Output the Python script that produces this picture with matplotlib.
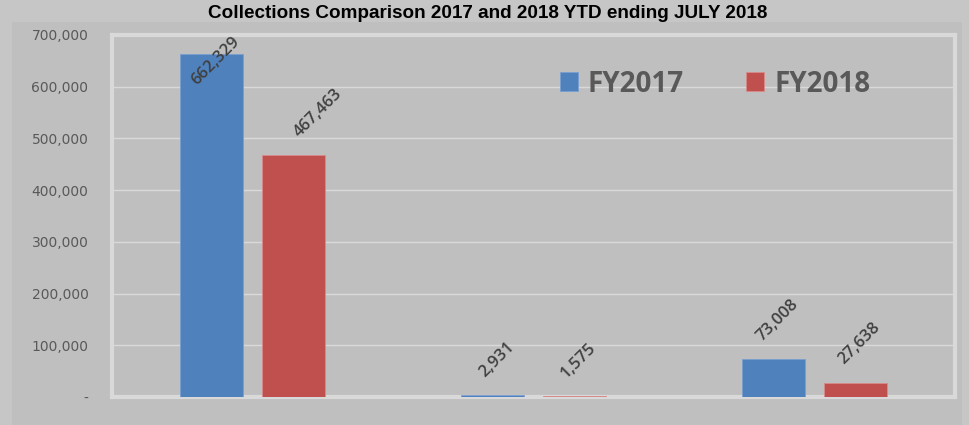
import matplotlib
matplotlib.use("Agg")
import matplotlib.pyplot as plt
from matplotlib.patches import Rectangle
from matplotlib.ticker import FuncFormatter
import numpy as np

title = "Collections Comparison 2017 and 2018 YTD ending JULY 2018"
categories = ["A", "B", "C"]
series_names = ["FY2017", "FY2018"]
fy2017 = [662329, 2931, 73008]
fy2018 = [467463, 1575, 27638]
colors = ["#4f81bd", "#c0504d"]
yticks = [0, 100000, 200000, 300000, 400000, 500000, 600000, 700000]

# layout-only nudges for individual labels (series index, category index) -> px
label_nudge_px = {(1, 0): 21}

W, H = 969, 425
fig = plt.figure(figsize=(W / 100, H / 100), dpi=100, facecolor="#c6c6c6")
fig.patches.append(Rectangle((12 / W, 0), (962 - 12) / W, (H - 22) / H,
                             transform=fig.transFigure, facecolor="#bfbfbf",
                             edgecolor="none", zorder=-10))

ax = fig.add_axes([112 / W, 28 / H, (955 - 112) / W, (390 - 28) / H])
ax.set_zorder(2)
ax.set_facecolor("#bfbfbf")

x = np.arange(len(categories))
bw = 0.225
off = 0.145
b1 = ax.bar(x - off, fy2017, bw, color=colors[0], edgecolor="#7a9fd0", linewidth=0.6,
            label=series_names[0], zorder=3)
b2 = ax.bar(x + off, fy2018, bw, color=colors[1], edgecolor="#d98b89", linewidth=0.6,
            label=series_names[1], zorder=3)

ymax = 700000
ax.set_xlim(-0.5, 2.5)
ax.set_ylim(0, ymax)
ax.set_yticks(yticks)
ax.yaxis.set_major_formatter(FuncFormatter(lambda v, p: "-" if v == 0 else f"{int(v):,}"))
ax.tick_params(axis="y", length=0, pad=17, labelsize=10, labelcolor="#595959")
ax.set_xticks([])
ax.grid(axis="y", color="#d9d9d9", linewidth=1.0, zorder=1)
ax.set_axisbelow(True)
for s in ax.spines.values():
    s.set_color("#d9d9d9")
    s.set_linewidth(3)

px2pt = 72 / 100
ax_h_px = 390 - 28
for si, (xs, vals) in enumerate(((x - off, fy2017), (x + off, fy2018))):
    for ci, (xi, v) in enumerate(zip(xs, vals)):
        dx = (4 + label_nudge_px.get((si, ci), 0)) * px2pt
        # label bbox height approx 47 px; clamp inside plot area
        top_px = v / ymax * ax_h_px
        kw = dict(rotation=45, rotation_mode="default", ha="center",
                  fontsize=12, fontweight="semibold", family="Open Sans",
                  color="#404040", zorder=5, annotation_clip=False,
                  textcoords="offset points")
        if top_px + 15 + 47 > ax_h_px:
            ax.annotate(f"{v:,}", xy=(xi, ymax), xytext=(dx, 1), va="top", **kw)
        else:
            ax.annotate(f"{v:,}", xy=(xi, v), xytext=(dx, 15 * px2pt), va="bottom", **kw)

leg = fig.legend(handles=[b1, b2], labels=series_names, ncol=2, frameon=False,
                 loc="center left", bbox_to_anchor=(560 / W, 1 - 84 / H),
                 bbox_transform=fig.transFigure, borderpad=0, borderaxespad=0,
                 handlelength=0.65, handleheight=0.65, handletextpad=0.35,
                 columnspacing=2.25,
                 prop={"family": "Open Sans", "weight": "bold", "size": 20})
leg.set_zorder(5)
for t in leg.get_texts():
    t.set_color("#595959")

fig.text(488 / W, 1 - 13 / H, title, ha="center", va="center", fontsize=13.6,
         fontweight="bold", family="Liberation Sans", color="black")

fig.savefig("out.png", dpi=100, facecolor=fig.get_facecolor())
